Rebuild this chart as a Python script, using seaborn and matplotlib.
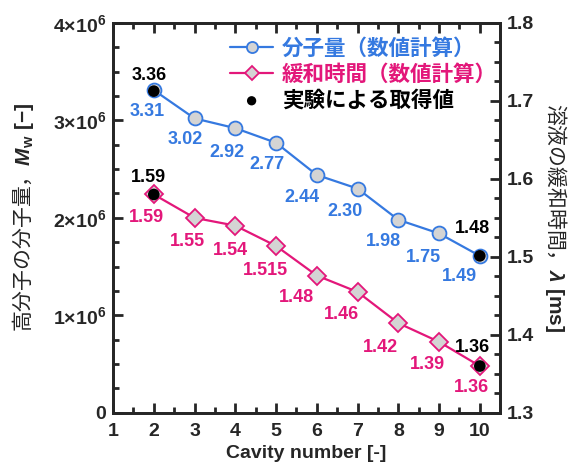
import matplotlib
matplotlib.use('Agg')
import matplotlib.pyplot as plt
import seaborn as sns
import pandas as pd
from matplotlib.ticker import MultipleLocator, FuncFormatter

# データ
cavity = [2, 3, 4, 5, 6, 7, 8, 9, 10]
mw_calc = [3.31e6, 3.02e6, 2.92e6, 2.77e6, 2.44e6, 2.30e6, 1.98e6, 1.84e6, 1.61e6]
mw_labels = ['3.31', '3.02', '2.92', '2.77', '2.44', '2.30', '1.98', '1.75', '1.49']
lam_calc = [1.58, 1.55, 1.54, 1.514, 1.476, 1.455, 1.415, 1.391, 1.36]
lam_labels = ['1.59', '1.55', '1.54', '1.515', '1.48', '1.46', '1.42', '1.39', '1.36']

exp_x = [2, 10]
exp_mw = [3.30e6, 1.61e6]
exp_mw_labels = ['3.36', '1.48']
exp_lam = [1.58, 1.36]
exp_lam_labels = ['1.59', '1.36']

blue = '#3579E0'
pink = '#E3177A'
grey = '#D4D4D4'

sns.set_style('ticks')
plt.rcParams['font.family'] = ['Liberation Sans', 'Noto Sans CJK JP', 'DejaVu Sans']
plt.rcParams['font.weight'] = 'bold'
plt.rcParams['mathtext.fontset'] = 'custom'
plt.rcParams['mathtext.rm'] = 'Liberation Sans:bold'
plt.rcParams['mathtext.bf'] = 'Liberation Sans:bold'
plt.rcParams['mathtext.it'] = 'Liberation Sans:italic:bold'
jp = ['Noto Sans CJK JP', 'Liberation Sans', 'DejaVu Sans']

df = pd.DataFrame({'cavity': cavity, 'mw': mw_calc, 'lam': lam_calc})

fig = plt.figure(figsize=(5.71, 4.67), dpi=100)
ax = fig.add_axes([0.198, 0.116, 0.678, 0.835])
ax2 = ax.twinx()

sns.lineplot(data=df, x='cavity', y='mw', ax=ax, color=blue, lw=1.6, marker='o',
             markersize=10, markerfacecolor=grey, markeredgecolor=blue, markeredgewidth=1.3,
             label='分子量（数値計算）')
sns.scatterplot(x=exp_x, y=exp_mw, ax=ax, color='black', s=70, zorder=5, edgecolor='none')

sns.lineplot(data=df, x='cavity', y='lam', ax=ax2, color=pink, lw=1.6, marker='D',
             markersize=9, markerfacecolor=grey, markeredgecolor=pink, markeredgewidth=1.3,
             label='緩和時間（数値計算）')
sns.scatterplot(x=exp_x, y=exp_lam, ax=ax2, color='black', s=70, zorder=5, edgecolor='none',
                label='実験による取得値')
for a in (ax, ax2):
    if a.get_legend() is not None:
        a.get_legend().remove()

ax.set_xlim(1, 10.5)
ax.set_ylim(0, 4e6)
ax2.set_ylim(1.3, 1.8)

# ラベル
mw_off = [(-7, -21), (-9, -21), (-8, -24), (-9, -22), (-15, -23), (-13, -23), (-15, -22), (-16, -24), (-20, -21)]
for x, y, t, o in zip(cavity, mw_calc, mw_labels, mw_off):
    ax.annotate(t, (x, y), xytext=o, textcoords='offset pixels', ha='center', va='center',
                color=blue, fontsize=13, fontweight='bold')
lam_off = [(-7, -23), (-7, -24), (-5, -25), (-11, -25), (-20, -22), (-16, -23), (-18, -24), (-12, -23), (-8, -21)]
for x, y, t, o in zip(cavity, lam_calc, lam_labels, lam_off):
    ax2.annotate(t, (x, y), xytext=o, textcoords='offset pixels', ha='center', va='center',
                 color=pink, fontsize=13, fontweight='bold')
for x, y, t, o in zip(exp_x, exp_mw, exp_mw_labels, [(-5, 16), (-7, 27)]):
    ax.annotate(t, (x, y), xytext=o, textcoords='offset pixels', ha='center', va='center',
                color='black', fontsize=13, fontweight='bold')
for x, y, t, o in zip(exp_x, exp_lam, exp_lam_labels, [(-5, 17), (-7, 19)]):
    ax2.annotate(t, (x, y), xytext=o, textcoords='offset pixels', ha='center', va='center',
                 color='black', fontsize=13, fontweight='bold')

# 軸
def mw_fmt(v, pos):
    if v == 0:
        return '0'
    return r'$%d{\times}10^6$' % round(v / 1e6)

ax.yaxis.set_major_locator(MultipleLocator(1e6))
ax.yaxis.set_minor_locator(MultipleLocator(2.5e5))
ax.yaxis.set_major_formatter(FuncFormatter(mw_fmt))
ax.xaxis.set_major_locator(MultipleLocator(1))
ax.xaxis.set_minor_locator(MultipleLocator(0.5))
ax2.yaxis.set_major_locator(MultipleLocator(0.1))
ax2.yaxis.set_minor_locator(MultipleLocator(0.025))
ax2.yaxis.set_major_formatter(FuncFormatter(lambda v, p: '%.1f' % v))

ax.tick_params(which='both', direction='in', width=2, top=True, right=False, labelsize=14, pad=5)
ax.tick_params(which='major', length=7)
ax.tick_params(which='minor', length=4)
ax.tick_params(axis='x', pad=7)
ax2.tick_params(which='both', direction='in', width=2, labelsize=14, pad=5)
ax2.tick_params(which='major', length=7)
ax2.tick_params(which='minor', length=4)
for a in (ax, ax2):
    for s in a.spines.values():
        s.set_linewidth(2)
        s.set_visible(True)
for lab in ax.get_xticklabels() + ax.get_yticklabels() + ax2.get_yticklabels():
    lab.set_fontweight('bold')

ax.set_xlabel('Cavity number [-]', fontsize=14, fontweight='bold', labelpad=4)
ax.set_ylabel(r'高分子の分子量，$M_\mathrm{w}\ \mathrm{[-]}$', fontsize=15, family=jp,
              fontweight='normal', labelpad=12)
ax2.set_ylabel(r'溶液の緩和時間，$\lambda\ \mathrm{[ms]}$', fontsize=15, family=jp,
               fontweight='normal', rotation=-90, labelpad=25)

h1, l1 = ax.get_legend_handles_labels()
h2, l2 = ax2.get_legend_handles_labels()
leg = ax2.legend(h1 + h2, l1 + l2, loc='upper right', bbox_to_anchor=(1.03, 1.0), frameon=False,
                 prop={'family': jp, 'size': 15.5, 'weight': 'bold'}, labelcolor=[blue, pink, 'black'],
                 handlelength=2.0, handletextpad=0.4, borderaxespad=0.3, labelspacing=0.22,
                 markerscale=0.8)

fig.savefig('out.png', dpi=100)
